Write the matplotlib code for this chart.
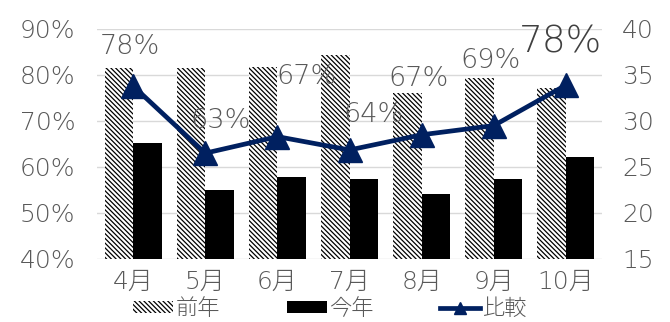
import matplotlib
matplotlib.use("Agg")
import matplotlib.pyplot as plt
from matplotlib.ticker import FuncFormatter, MultipleLocator

plt.rcParams['font.family'] = ['DejaVu Sans', 'Noto Sans CJK JP']
plt.rcParams['font.weight'] = 'light'
plt.rcParams['hatch.linewidth'] = 0.9

# ---- data ----
months = ['4月', '5月', '6月', '7月', '8月', '9月', '10月']
last_year = [35.8, 35.8, 35.9, 37.2, 33.0, 34.7, 33.55]
this_year = [27.6, 22.5, 23.9, 23.7, 22.1, 23.7, 26.1]
ratio = [0.776, 0.630, 0.666, 0.637, 0.670, 0.690, 0.778]
ratio_labels = ['78%', '63%', '67%', '64%', '67%', '69%', '78%']
series_names = ['前年', '今年', '比較']

# label offsets in pixels (style)
label_offsets = [(-3, 40), (15, 33), (29, 60), (24, 35), (-3, 56), (-3, 65), (-5, 43)]

GREY = '#595959'
NAVY = '#002060'

fig = plt.figure(figsize=(6.7, 3.22), dpi=100)
ax = fig.add_axes([0.1448, 0.1957, 0.7537, 0.7143])
x = list(range(len(months)))
w = 0.395

b1 = ax.bar([i - w / 2 for i in x], last_year, width=w, color='white',
            edgecolor='black', linewidth=0, hatch='\\' * 7, zorder=2,
            label=series_names[0])
b2 = ax.bar([i + w / 2 for i in x], this_year, width=w, color='black',
            linewidth=0, zorder=2, label=series_names[1])

ax2 = ax.twinx()

ax.set_ylim(15, 40)
ax.yaxis.set_major_locator(MultipleLocator(5))
ax.set_xlim(-0.5, len(months) - 0.5)
ax.set_xticks(x)
ax.set_xticklabels(months)
ax.grid(axis='y', color='#d9d9d9', linewidth=1, zorder=0)
ax.set_axisbelow(True)
for s in ax.spines.values():
    s.set_visible(False)
ax.yaxis.tick_right()
ax.tick_params(axis='both', length=0, labelsize=18, colors=GREY)
ax.tick_params(axis='x', pad=8)
ax.tick_params(axis='y', pad=14.5)

ax2.yaxis.tick_left()
line, = ax2.plot(x, ratio, color=NAVY, linewidth=3.4, marker='^',
                 markersize=17, zorder=3, label=series_names[2])
ax2.set_ylim(0.4, 0.9)
ax2.yaxis.set_major_locator(MultipleLocator(0.1))
ax2.yaxis.set_major_formatter(FuncFormatter(lambda v, p: f'{v*100:.0f}%'))
for s in ax2.spines.values():
    s.set_visible(False)
ax2.tick_params(axis='y', length=0, labelsize=18, colors=GREY, pad=15.5)

for i, (val, lab, off) in enumerate(zip(ratio, ratio_labels, label_offsets)):
    big = (i == len(ratio) - 1)
    ax2.annotate(lab, (x[i], val), xytext=off, textcoords='offset pixels',
                 ha='center', va='center',
                 fontsize=27 if big else 19.5,
                 color='#404040' if big else GREY, zorder=4)

fig.legend([b1, b2, line], series_names, loc='center',
           bbox_to_anchor=(0.4925, 0.042), ncol=3, frameon=False,
           fontsize=16, labelcolor=GREY, handlelength=1.8, handleheight=0.5,
           handletextpad=0.1, columnspacing=3.0, borderpad=0, markerscale=0.55)

fig.savefig('out.png', dpi=100)
